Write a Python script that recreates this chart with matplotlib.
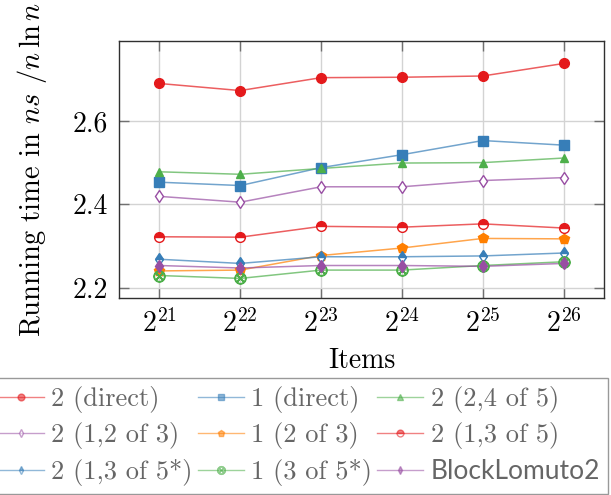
import numpy as np
import matplotlib
matplotlib.use("Agg")
import matplotlib.pyplot as plt
from matplotlib.lines import Line2D

plt.rcParams['font.family'] = 'cmr10'
plt.rcParams['mathtext.fontset'] = 'cm'
plt.rcParams['axes.unicode_minus'] = False
plt.rcParams['axes.formatter.use_mathtext'] = True

# items = 2^k
exps = [21, 22, 23, 24, 25, 26]
items = [2 ** k for k in exps]

labels = ["2 (direct)", "1 (direct)", "2 (2,4 of 5)",
          "2 (1,2 of 3)", "1 (2 of 3)", "2 (1,3 of 5)",
          "2 (1,3 of 5*)", "1 (3 of 5*)", "BlockLomuto2"]

two_direct = [2.690, 2.673, 2.704, 2.705, 2.708, 2.738]
one_direct = [2.453, 2.445, 2.488, 2.519, 2.553, 2.542]
two_24of5 = [2.478, 2.472, 2.486, 2.499, 2.500, 2.511]
two_12of3 = [2.419, 2.405, 2.442, 2.442, 2.457, 2.464]
one_2of3 = [2.240, 2.242, 2.277, 2.295, 2.318, 2.317]
two_13of5 = [2.322, 2.321, 2.347, 2.345, 2.353, 2.343]
two_13of5s = [2.268, 2.258, 2.274, 2.274, 2.276, 2.283]
one_3of5s = [2.229, 2.222, 2.242, 2.242, 2.253, 2.262]
block_lomuto2 = [2.253, 2.247, 2.253, 2.253, 2.251, 2.258]

series = [two_direct, one_direct, two_24of5, two_12of3, one_2of3,
          two_13of5, two_13of5s, one_3of5s, block_lomuto2]

red, blue, green, purple, orange = '#e41a1c', '#377eb8', '#4daf4a', '#984ea3', '#ff7f00'
# color, marker, markersize, fillstyle, facecolor
styles = [
    (red, 'o', 7, 'full', red),
    (blue, 's', 7, 'full', blue),
    (green, '^', 6, 'full', green),
    (purple, 'd', 6, 'full', 'white'),
    (orange, 'p', 7, 'full', orange),
    (red, 'o', 7, 'top', red),
    (blue, 'd', 6, 'top', blue),
    (green, r'$\otimes$', 8, 'full', green),
    (purple, 'd', 6, 'full', purple),
]

fig = plt.figure(figsize=(6.11, 4.95), dpi=100)
ax = fig.add_axes([119 / 611, 1 - 298 / 495, 485 / 611, 257 / 495])

handles = []
for lab, ys, (c, m, ms, fs, fc) in zip(labels, series, styles):
    ax.plot(items, ys, color=c, lw=1.1, alpha=0.7, zorder=2)
    ax.plot(items, ys, ls='none', marker=m, ms=ms, color=c, mfc=fc, mec=c,
            fillstyle=fs, markerfacecoloralt='white', mew=1.0, zorder=3)
    handles.append(Line2D([], [], color=c, lw=1.0, marker=m, ms=ms * 0.7,
                          mfc=fc, mec=c, fillstyle=fs, markerfacecoloralt='white',
                          alpha=0.55, label=lab))

ax.set_xscale('log', base=2)
ax.set_xlim(2 ** 20.5, 2 ** 26.5)
ax.set_xticks(items)
ax.set_xticklabels([r'$2^{%d}$' % k for k in exps])
ax.minorticks_off()
ax.set_ylim(2.175, 2.792)
ax.set_yticks([2.2, 2.4, 2.6])
ax.set_yticklabels(['2.2', '2.4', '2.6'])

ax.grid(True, color='#d3d3d3', lw=1.0)
ax.set_axisbelow(True)
ax.tick_params(direction='in', length=7, width=1, color='#707070', labelsize=20,
               top=True, right=True, pad=8)
for s in ax.spines.values():
    s.set_color('#303030')
    s.set_linewidth(1.0)

ax.set_xlabel('Items', fontsize=20, labelpad=7)
ax.set_ylabel(r'Running time in $ns$ $/n\,\ln n$', fontsize=20.5, labelpad=17)

# legend is filled row by row
order = [0, 3, 6, 1, 4, 7, 2, 5, 8]
leg = fig.legend(handles=[handles[i] for i in order], ncol=3, loc='upper right',
                 bbox_to_anchor=(608 / 611, 1 - 378 / 495), fontsize=19,
                 frameon=True, fancybox=False, edgecolor='#808080',
                 handlelength=1.75, handletextpad=0.27, columnspacing=0.2,
                 labelspacing=0.36, borderpad=0.3, borderaxespad=0)
leg.get_frame().set_linewidth(1.0)
for t in leg.get_texts():
    t.set_color('#666666')
leg.get_texts()[-1].set_family('Lato')

fig.savefig('out.png', dpi=100)
